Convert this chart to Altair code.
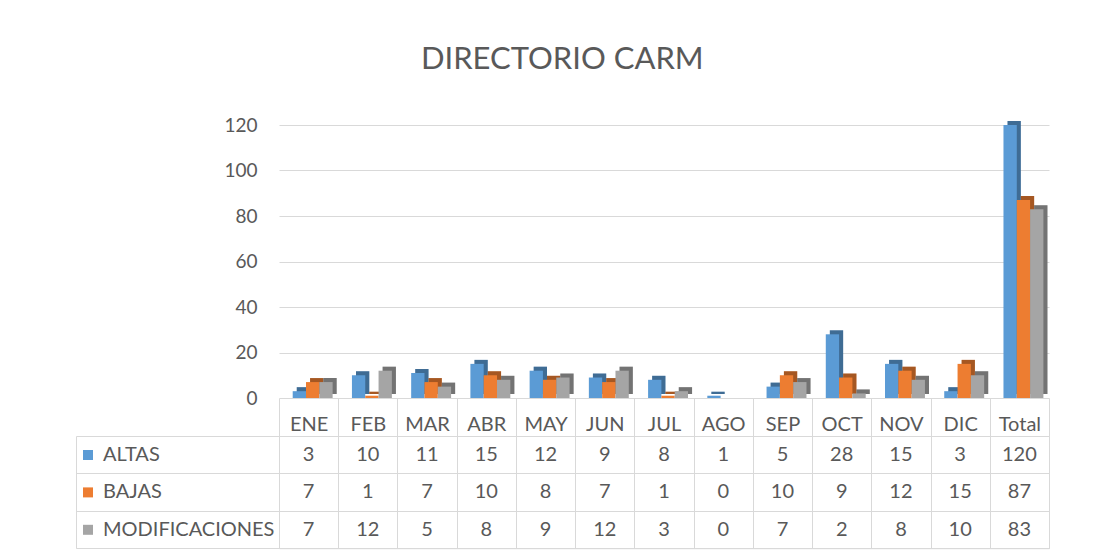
import altair as alt
import pandas as pd

months = ["ENE", "FEB", "MAR", "ABR", "MAY", "JUN", "JUL", "AGO", "SEP", "OCT", "NOV", "DIC", "Total"]
series = ["ALTAS", "BAJAS", "MODIFICACIONES"]
altas = [3, 10, 11, 15, 12, 9, 8, 1, 5, 28, 15, 3, 120]
bajas = [7, 1, 7, 10, 8, 7, 1, 0, 10, 9, 12, 15, 87]
modif = [7, 12, 5, 8, 9, 12, 3, 0, 7, 2, 8, 10, 83]
y_ticks = [0, 20, 40, 60, 80, 100, 120]

rows = []
for s, vals in zip(series, [altas, bajas, modif]):
    for m, v in zip(months, vals):
        rows.append({"mes": m, "serie": s, "valor": v})
df = pd.DataFrame(rows)

colors = ["#5b9bd5", "#ed7d31", "#a5a5a5"]
GRID = "#d9d9d9"
TXT = "#595959"
W = 770
H = 273
ROW = 37.4
FONT = "Lato"

x_bar = alt.X(
    "mes:N", sort=months,
    scale=alt.Scale(paddingInner=0, paddingOuter=0),
    axis=alt.Axis(title=None, tickBand="extent", ticks=True, tickSize=38, tickColor=GRID,
                  tickWidth=1, domain=False, labelAngle=0, labelFontSize=20, labelColor=TXT,
                  labelPadding=-22, grid=False),
)
y_bar = alt.Y(
    "valor:Q", scale=alt.Scale(domain=[0, 120]),
    axis=alt.Axis(title=None, values=y_ticks, ticks=False, domain=False, gridColor=GRID,
                  labelFontSize=19, labelColor=TXT, labelPadding=22),
)
xoff_front = alt.XOffset("serie:N", sort=series,
                         scale=alt.Scale(paddingOuter=0.725, paddingInner=0, align=0.71))
xoff_back = alt.XOffset("serie:N", sort=series,
                        scale=alt.Scale(paddingOuter=0.725, paddingInner=0, align=0.92))
color = alt.Color(
    "serie:N", sort=series, scale=alt.Scale(domain=series, range=colors),
    legend=alt.Legend(title=None, orient="none", legendX=-201, legendY=320, direction="vertical",
                      symbolType="square", symbolSize=100, symbolStrokeWidth=0,
                      labelFontSize=20, labelColor=TXT, labelOffset=5, labelLimit=0,
                      rowPadding=17.4, padding=0),
)

base = alt.Chart(df)
back = base.mark_bar(yOffset=-4).encode(x=x_bar, y=y_bar, xOffset=xoff_back, color=color)
shade = base.mark_bar(yOffset=-4, color="black", opacity=0.3).encode(
    x=x_bar, y=y_bar, xOffset=xoff_back)
back_group = alt.layer(back, shade)
front = base.mark_bar().encode(x=x_bar, y=y_bar, xOffset=xoff_front, color=color)
bars = alt.layer(back_group, front).resolve_scale(xOffset="independent").properties(
    width=W, height=H, view=alt.ViewBackground(strokeWidth=0))

x_tab = alt.X(
    "mes:N", sort=months, scale=alt.Scale(paddingInner=0, paddingOuter=0),
    axis=alt.Axis(title=None, labels=False, ticks=False, domain=False, grid=True,
                  gridColor=GRID, tickBand="extent"),
)
text_layer = base.mark_text(fontSize=20, color=TXT, font=FONT).encode(
    x=x_tab,
    y=alt.Y("serie:N", sort=series, scale=alt.Scale(paddingInner=0, paddingOuter=0),
            axis=alt.Axis(orient="left", title=None, labels=False, domain=False, ticks=True,
                          tickSize=203, tickColor=GRID, tickBand="extent", grid=True,
                          gridColor=GRID)),
    text="valor:Q",
)
border_layer = base.mark_point(opacity=0).encode(
    x=x_tab,
    y=alt.Y("serie:N", sort=series,
            axis=alt.Axis(orient="left", offset=203, title=None, labels=False, ticks=False,
                          domain=True, domainColor=GRID, grid=False)),
)
table = alt.layer(text_layer, border_layer).resolve_axis(y="independent").properties(
    width=W, height=3 * ROW, view=alt.ViewBackground(stroke=GRID))

chart = alt.vconcat(
    bars, table, spacing=38, bounds="flush",
    title=alt.Title("DIRECTORIO CARM", fontSize=31, color=TXT, fontWeight="normal",
                    anchor="middle", font=FONT, offset=40),
).resolve_legend(color="independent").resolve_scale(color="independent").properties(
    padding={"left": 67, "top": 36, "right": 5, "bottom": 5}
).configure(font=FONT).configure_view(stroke=None)

chart.save("out.html", embed_options={"renderer": "svg", "actions": False})
